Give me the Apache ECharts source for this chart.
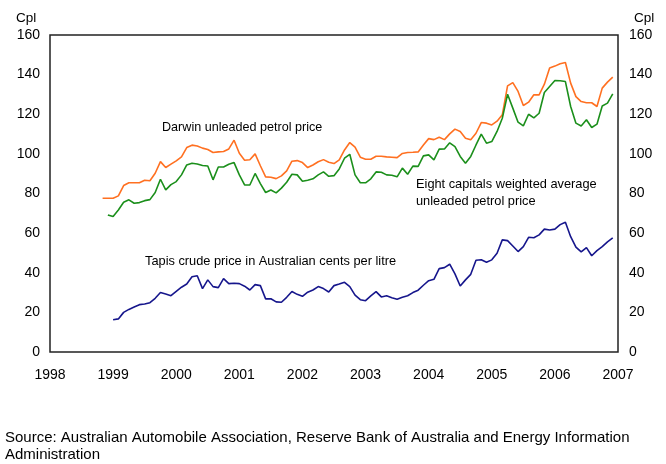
<!DOCTYPE html>
<html>
<head>
<meta charset="utf-8">
<script src="https://cdn.jsdelivr.net/npm/echarts@6/dist/echarts.min.js"></script>
<style>
  html, body { margin: 0; padding: 0; background: #fff; }
  #chart { width: 666px; height: 464px; }
</style>
</head>
<body>
<div id="chart"></div>
<script>
// monthly data, cents per litre
var darwinStart = [1998, 11] // Nov 1998
var darwin = [77.6, 77.6, 77.6, 78.8, 84, 85.4, 85.4, 85.4, 86.7, 86.4, 90.2, 96.1,
  93.1, 94.8, 96.5, 98.5, 103.2, 104.4, 104, 102.9, 102.2, 100.7, 101, 101.2,
  102.5, 106.9, 100.3, 96.8, 97, 100, 94, 88.4, 88.2, 87.5, 88.9, 91.4,
  96.3, 96.6, 95.6, 93.1, 94.4, 96, 97.1, 95.8, 95.1, 97, 102, 105.7,
  103.4, 98.3, 97.3, 97.3, 98.8, 98.8, 98.5, 98.3, 98.1, 100.2, 100.7, 100.8,
  101, 104.5, 107.7, 107.2, 108.4, 107.2, 110.1, 112.5, 111.3, 107.9, 107.1, 110.4,
  115.8, 115.5, 114.6, 116.5, 119.7, 134.3, 136, 131.5, 124.4, 126.1, 129.8, 129.8,
  135.2, 143.3, 144.3, 145.5, 146.1, 135.7, 128.9, 126.4, 125.8, 125.8, 123.9, 133.2,
  136.2, 138.7]

var eightStart = [1998, 12] // Dec 1998
var eightCapitals = [69.2, 68.4, 71.7, 75.6, 76.8, 75.1, 75.4, 76.4, 76.9, 80.5, 87.2,
  81.8, 84.5, 86, 89.4, 94.4, 95.3, 94.9, 94.1, 93.9, 86.9, 93.4, 93.4,
  94.8, 95.6, 89.4, 84.3, 84.3, 90.1, 85, 80.5, 81.8, 80.3, 82.7, 85.7,
  89.7, 89.4, 86.2, 86.7, 87.4, 89.4, 90.9, 88.7, 89, 92.4, 97.8, 99.8,
  89.4, 85.4, 85.4, 87.4, 90.9, 90.7, 89.4, 89.2, 88.4, 92.8, 89.7, 93.8,
  93.7, 99, 99.5, 97, 102.4, 102.5, 105.6, 103.7, 98.7, 95.3, 98.7, 104.5,
  110, 105.4, 106.2, 111.3, 118, 130.1, 123.1, 116, 114.1, 120, 118.2, 120.5,
  131, 134, 137, 136.9, 136.5, 123.9, 115.5, 114.1, 117.2, 113.3, 115, 124.2,
  125.6, 130.3]

var tapisStart = [1999, 1] // Jan 1999
var tapis = [16.3, 16.7, 20, 21.5, 22.7, 23.9, 24.2, 24.9, 27.1, 30, 29.3, 28.4,
  30.6, 32.7, 34.3, 38, 38.5, 32, 36.4, 33, 32.5, 37, 34.5, 34.7,
  34.5, 33.2, 31.3, 34, 33.5, 26.8, 26.9, 25.3, 25.1, 27.6, 30.5, 29.1,
  28.1, 30.2, 31.3, 33, 32, 30.3, 33.5, 34.3, 35.2, 33, 28.7, 26.4,
  25.9, 28.3, 30.5, 27.8, 28.4, 27.4, 26.6, 27.6, 28.4, 30, 31.2, 33.7,
  36, 36.7, 42.1, 42.6, 44.3, 39.4, 33.3, 36.4, 39.2, 46.3, 46.6, 45.3,
  46.5, 49.8, 56.6, 56.2, 53.5, 50.7, 53.2, 57.9, 57.7, 59.1, 62, 61.6,
  62, 64.3, 65.5, 58.2, 52.9, 50.5, 52.7, 48.6, 51.2, 53.2, 55.6, 57.6]

var yearTicks = [1998, 1999, 2000, 2001, 2002, 2003, 2004, 2005, 2006, 2007]

var seriesNames = ['Darwin unleaded petrol price',
  'Eight capitals weighted average unleaded petrol price',
  'Tapis crude price in Australian cents per litre']
var seriesColors = ['#ff7021', '#1b8f1b', '#16168c']

function toPoints(start, values) {
  return values.map(function (v, i) {
    return [start[0] + (start[1] - 1 + i) / 12, v]
  })
}

var font = '"Liberation Sans", Arial, sans-serif'

var chart = echarts.init(document.getElementById('chart'))

var yAxisBase = {
  type: 'value',
  min: 0,
  max: 160,
  interval: 20,
  axisLine: { show: false },
  axisTick: { show: false },
  splitLine: { show: false },
  axisLabel: { color: '#000', fontFamily: font, fontSize: 14 }
}

chart.setOption({
  animation: false,
  grid: {
    left: 50,
    right: 48,
    top: 35,
    bottom: 112,
    show: true,
    borderColor: '#222',
    borderWidth: 1.5,
    backgroundColor: 'transparent'
  },
  xAxis: {
    type: 'value',
    min: yearTicks[0],
    max: yearTicks[yearTicks.length - 1],
    interval: 1,
    axisLine: { show: false },
    axisTick: { show: false },
    splitLine: { show: false },
    axisLabel: {
      color: '#000',
      fontFamily: font,
      fontSize: 14,
      margin: 16,
      formatter: function (v) { return String(v) }
    }
  },
  yAxis: [
    Object.assign({}, yAxisBase, { position: 'left', axisLabel: Object.assign({}, yAxisBase.axisLabel, { margin: 10 }) }),
    Object.assign({}, yAxisBase, { position: 'right', axisLabel: Object.assign({}, yAxisBase.axisLabel, { margin: 11 }) })
  ],
  graphic: [
    { type: 'text', left: 16, top: 11, style: { text: 'Cpl', font: '13.5px ' + font, fill: '#000' } },
    { type: 'text', left: 634, top: 11, style: { text: 'Cpl', font: '13.5px ' + font, fill: '#000' } },
    { type: 'text', left: 162, top: 121, style: { text: 'Darwin unleaded petrol price', font: '12.6px ' + font, fill: '#000' } },
    { type: 'text', left: 416, top: 176, style: { text: 'Eight capitals weighted average\nunleaded petrol price', font: '12.8px ' + font, fill: '#000', lineHeight: 17 } },
    { type: 'text', left: 145, top: 255, style: { text: 'Tapis crude price in Australian cents per litre', font: '12.8px ' + font, fill: '#000' } },
    { type: 'text', left: 5, top: 429, style: { text: 'Source: Australian Automobile Association, Reserve Bank of Australia and Energy Information\nAdministration', font: '15px ' + font, fill: '#000', lineHeight: 17 } }
  ],
  series: [
    { name: seriesNames[0], type: 'line', data: toPoints(darwinStart, darwin) },
    { name: seriesNames[1], type: 'line', data: toPoints(eightStart, eightCapitals) },
    { name: seriesNames[2], type: 'line', data: toPoints(tapisStart, tapis) }
  ].map(function (s, i) {
    s.showSymbol = false
    s.symbol = 'none'
    s.lineStyle = { color: seriesColors[i], width: 1.6 }
    s.itemStyle = { color: seriesColors[i] }
    return s
  })
})
</script>
</body>
</html>
